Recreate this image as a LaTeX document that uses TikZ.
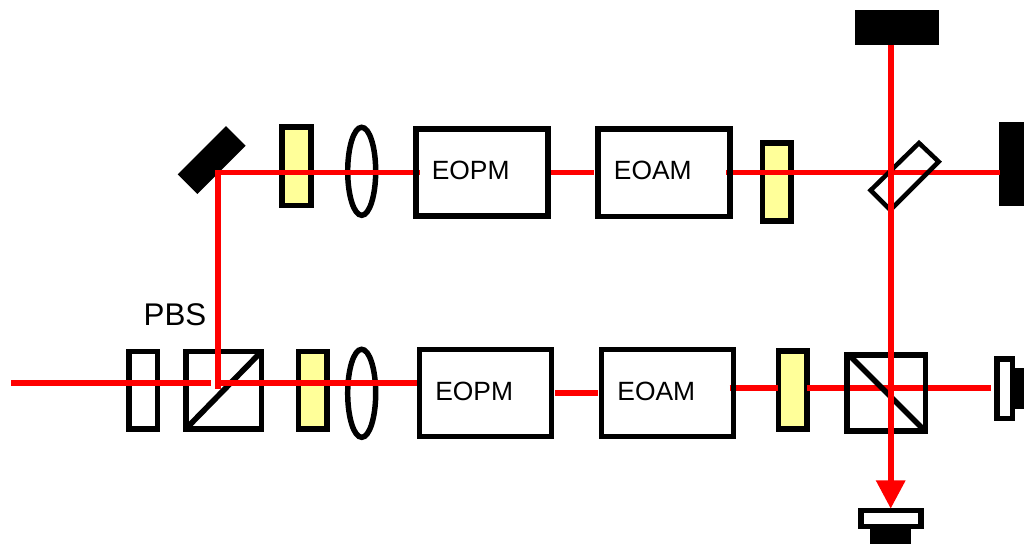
\documentclass[tikz,border=0pt]{standalone}
\usepackage{fontspec}
\setmainfont{Liberation Sans}
\definecolor{plate}{RGB}{255,255,153}
\definecolor{beam}{RGB}{255,0,0}
\tikzset{
  x=0.75pt,y=-0.75pt,
  optic/.style={draw=black,line width=4.2pt,line join=miter},
  wave/.style={optic,fill=plate},
  ray/.style={draw=beam,line width=4.4pt},
  lensring/.style={draw=black,line width=4.1pt},
  bigtext/.style={font=\fontsize{23.5pt}{25pt}\selectfont,text=black,inner sep=0pt},
  boxtext/.style={font=\fontsize{19.8pt}{22pt}\selectfont,text=black,inner sep=0pt}
}
\begin{document}
\begin{tikzpicture}
\useasboundingbox (0,0) rectangle (1024,544);
% items beneath the beams
\draw[wave] (778.4,351) rectangle (807,429);
\draw[wave] (298.4,351.4) rectangle (327,429);
\draw[wave] (282,127) rectangle (311,205.3);
\draw[wave] (762.4,143) rectangle (791,221);
\draw[lensring] (361.7,171.3) ellipse (14 and 44);
\draw[lensring] (361.7,393.3) ellipse (14 and 44);
\draw[optic] (129,351.4) rectangle (157.6,429);
\draw[optic] (185.7,351.4) rectangle (261.6,429);
\draw[optic] (185.7,429) -- (261.6,351.4);
\fill[black] (855.3,10) rectangle (939.3,44.7);
\fill[black] (999.3,122.3) rectangle (1024,205.7);
\fill[black] (177.7,174.3) -- (226,126) -- (245.7,145.7) -- (197.3,194) -- cycle;
\fill[black] (1015,368) rectangle (1024,409.3);
\draw[optic] (997,358.7) rectangle (1012.6,418.6);
\fill[black] (870,529) rectangle (911.3,544);
\draw[optic] (861,510.4) rectangle (921,526.3);
% beams
\draw[ray] (11,383.3) -- (211,383.3);
\draw[ray] (218.4,172.5) -- (218.4,389.3);
\draw[ray] (220,383.3) -- (419.7,383.3);
\draw[ray] (215.4,172.5) -- (419.5,172.5);
\draw[ray] (551,172.5) -- (594.3,172.5);
\draw[ray] (726,172.5) -- (999.5,172.5);
\draw[ray] (555,393) -- (598.3,393);
\draw[ray] (729.7,388) -- (778,388);
\draw[ray] (807,388) -- (991,388);
% items over the horizontal beams
\draw[optic,line width=3.4pt] (919,143) -- (938.7,161.7) -- (890.3,210) -- (870.6,190.3) -- cycle;
\draw[optic] (847,354.7) rectangle (925.3,431);
\draw[optic] (849.5,355.5) -- (923,429);
\draw[ray] (890.7,44.7) -- (890.7,482);
\fill[beam] (875.7,480.3) -- (905.7,480.3) -- (890.7,508.3) -- cycle;
% modulators
\draw[optic] (415.7,128.7) rectangle (547.7,215.7);
\draw[optic] (597.7,128.7) rectangle (729.7,216.3);
\draw[optic] (419.4,349.4) rectangle (551.4,436.6);
\draw[optic] (601.4,349.4) rectangle (733.4,436.6);
\node[boxtext,anchor=west] (t1) at (431.5,170) {EOPM};
\node[boxtext,anchor=west] (t2) at (613.7,170) {EOAM};
\node[boxtext,anchor=west] (t3) at (435,391) {EOPM};
\node[boxtext,anchor=west] (t4) at (617.2,391) {EOAM};
\node[bigtext,anchor=west] (t5) at (143.4,315) {PBS};
\end{tikzpicture}
\end{document}
